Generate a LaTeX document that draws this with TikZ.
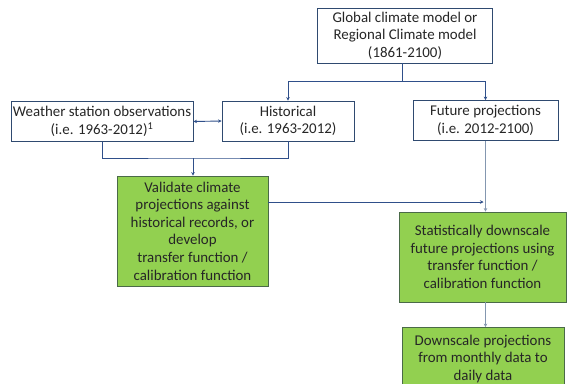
\documentclass[tikz,border=0pt]{standalone}
\usepackage{fontspec}
\setmainfont{Carlito}
\usetikzlibrary{arrows.meta}
\definecolor{boxline}{HTML}{2F4A70}
\definecolor{greenfill}{HTML}{92D050}
\definecolor{greenline}{HTML}{4A6A48}
\definecolor{linkblue}{HTML}{2F4F8A}
\definecolor{linkgray}{HTML}{8497B0}
\definecolor{textgray}{HTML}{262626}
\tikzset{
  box/.style={draw=boxline, line width=0.9pt, fill=white, align=center, inner sep=0pt,
    text=textgray, font=\fontsize{14.9}{17.6}\selectfont},
  greenbox/.style={box, draw=greenline, fill=greenfill},
  link/.style={draw=linkblue, line width=0.9pt, -{Stealth[length=3.5pt,width=3.5pt]}},
  plainlink/.style={draw=linkblue, line width=0.9pt},
  graylink/.style={link, draw=linkgray, line width=1.3pt}
}
\begin{document}
\begin{tikzpicture}[x=1pt,y=-1pt]
\clip (0,0) rectangle (567,383);
\fill[white] (0,0) rectangle (567,383);
\node[box, minimum width=175pt, minimum height=55pt] (gcm) at (405,35.5)
  {Global climate model or\\Regional Climate model\\(1861-2100)};
\node[box, minimum width=182pt, minimum height=40pt] (wso) at (102,121.5)
  {Weather station observations\\(i.e. 1963-2012)\textsuperscript{1}};
\node[box, minimum width=132pt, minimum height=40pt] (hist) at (288,121)
  {Historical\\(i.e. 1963-2012)};
\node[box, minimum width=145pt, minimum height=40pt] (fut) at (485.5,120.5)
  {Future projections\\(i.e. 2012-2100)};
\node[greenbox, minimum width=151pt, minimum height=110pt] (val) at (192.5,231)
  {Validate climate\\projections against\\historical records, or\\develop\\transfer function /\\calibration function};
\node[greenbox, minimum width=167pt, minimum height=90pt] (stat) at (482.5,257)
  {Statistically downscale\\future projections using\\transfer function /\\calibration function};
\node[greenbox, minimum width=162pt, minimum height=60pt, text depth=0pt] (down) at (483,357.5)
  {Downscale projections\\from monthly data to\\daily data};
\coordinate (split) at (402,81);
\coordinate (merge) at (193,158);
\coordinate (join) at (483.5,202);
\draw[plainlink] (gcm.south -| split) -- (split);
\draw[link] (split) -| (hist.north);
\draw[link] (split) -| (fut.north);
\draw[link, {Stealth[length=3.5pt,width=3.5pt]}-{Stealth[length=3.5pt,width=3.5pt]}] (wso.east) -- (hist.west);
\draw[plainlink] (wso.south) |- (merge) -| (hist.south);
\draw[link] (merge) -- (val.north -| merge);
\draw[link] (val.east |- join) -- (join);
\draw[graylink] (fut.south) -- (fut.south |- stat.north);
\draw[graylink] (stat.south -| fut.south) -- (fut.south |- down.north);
\end{tikzpicture}
\end{document}
